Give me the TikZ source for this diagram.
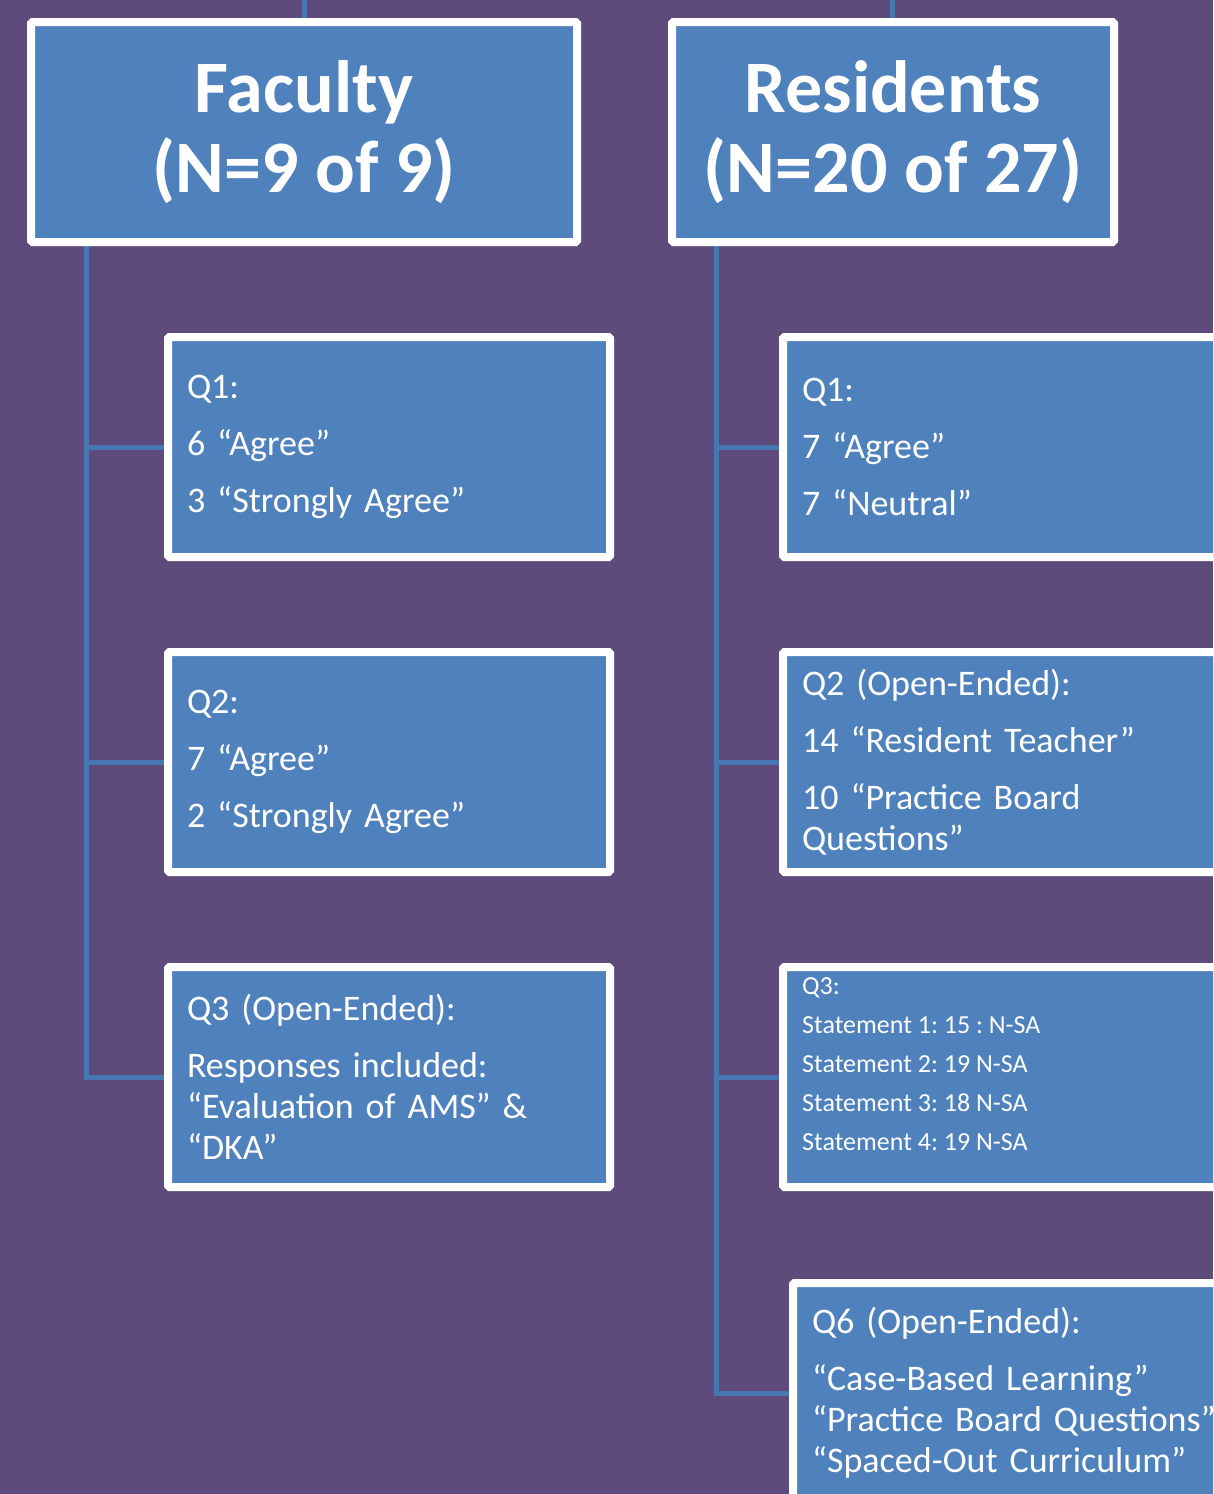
\documentclass[tikz,border=0pt]{standalone}
\usepackage{fontspec}
\setmainfont{Carlito}
\usetikzlibrary{calc,shadows,backgrounds}
\definecolor{bgpurple}{HTML}{5F4B7B}
\definecolor{boxblue}{HTML}{4F81BD}
\definecolor{lnblue}{HTML}{4677B3}
\tikzset{
  bx/.style={rectangle,draw=white,line width=8pt,fill=boxblue,rounded corners=1.5pt,text=white,inner sep=0pt,
    drop shadow={shadow xshift=2pt,shadow yshift=-4pt,opacity=0.35}},
  hd/.style={bx,minimum width=546pt,minimum height=220pt,align=center,font=\bfseries\fontsize{74}{80}\selectfont},
  qb/.style={bx,minimum width=442pt,minimum height=220pt,inner xsep=19pt,text width=404pt,align=left,
    font=\fontsize{36}{41}\selectfont,anchor=north west},
  sm/.style={inner sep=0pt,text=white,align=left,anchor=north west,font=\fontsize{26}{39}\selectfont},
  ln/.style={draw=lnblue,line width=5pt},
}
\frenchspacing
\begin{document}
\begin{tikzpicture}[x=1pt,y=-1pt]
\useasboundingbox (0,0) rectangle (1213,1494);
\begin{scope}[on background layer]
\fill[bgpurple] (0,0) rectangle (1213,1494);
\end{scope}
\clip (0,0) rectangle (1213,1494);
% group boxes
\node[hd] (fac) at (304,132) {Faculty\\(N=9 of 9)};
\node[hd,minimum width=442pt] (res) at (893,132) {Residents\\(N=20 of 27)};
% faculty answers
\node[qb] (f1) at (164,333) {Q1:\\[16pt]6 “Agree”\\[16pt]3 “Strongly Agree”};
\node[qb] (f2) at (164,648) {Q2:\\[16pt]7 “Agree”\\[16pt]2 “Strongly Agree”};
\node[qb] (f3) at (164,963) {Q3 (Open-Ended):\\[16pt]Responses included:\\“Evaluation of AMS” \&\\“DKA”};
% resident answers
\node[qb] (r1) at (779,333) {Q1:\\[16pt]7 “Agree”\\[16pt]7 “Neutral”};
\node[qb] (r2) at (779,648) {Q2 (Open-Ended):\\[16pt]14 “Resident Teacher”\\[16pt]10 “Practice Board\\Questions”};
\node[qb] (r3) at (779,963) {};
\node[sm] (r3t) at ($(r3.north west)+(23,14)$) {Q3:\\Statement 1: 15 : N-SA\\Statement 2: 19 N-SA\\Statement 3: 18 N-SA\\Statement 4: 19 N-SA};
\node[qb,text width=440pt] (r6) at (789,1279) {Q6 (Open-Ended):\\[16pt]“Case-Based Learning”\\“Practice Board Questions”\\“Spaced-Out Curriculum”};
% connectors
\coordinate (fs) at (304,0); \coordinate (rs) at (892,0);
\coordinate (ft) at (86,242); \coordinate (rt) at (716,242);
\begin{scope}[on background layer]
\draw[ln] (fs) -- (fac.north); \draw[ln] (rs) -- (rs |- res.north);
\draw[ln] (ft) |- (f3.west);
\foreach \q in {f1,f2} \draw[ln] (\q.west -| ft) -- (\q.west);
\draw[ln] (rt) |- (r6.west);
\foreach \q in {r1,r2,r3} \draw[ln] (\q.west -| rt) -- (\q.west);
\end{scope}
\end{tikzpicture}
\end{document}
